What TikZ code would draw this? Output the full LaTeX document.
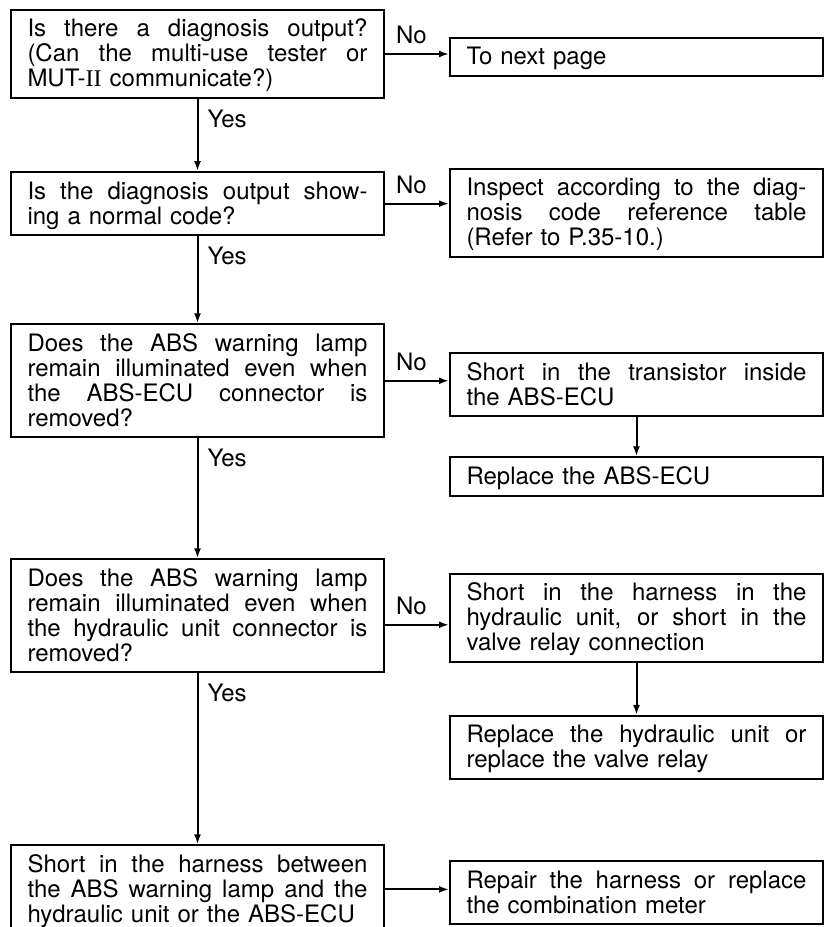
\documentclass[tikz,border=0pt]{standalone}
\usepackage{fontspec}
\setsansfont{TeX Gyre Heros}
\newfontfamily\romana{Liberation Serif}
\usetikzlibrary{positioning}
\usetikzlibrary{arrows.meta}
\newlength{\anchotexto}
\setlength{\anchotexto}{170pt}
\newcommand{\linea}[1]{\makebox[\anchotexto][s]{\spaceskip=0pt\xspaceskip=0pt #1}}
\tikzset{
  caja/.style={
    rectangle, draw=black, line width=1pt, fill=white,
    text width=\anchotexto, inner xsep=8.25pt, inner ysep=3pt, align=left,
    font=\sffamily\fontsize{12}{12.5}\selectfont,
    execute at begin node={\rule{0pt}{10.5pt}},
    execute at end node={\rule[-2.5pt]{0pt}{2.5pt}}
  },
  flecha/.style={-{Latex[length=5pt,width=3.5pt]}, line width=1pt, draw=black},
  etiqueta/.style={inner sep=0pt, font=\sffamily\fontsize{12}{12.5}\selectfont},
  etiqsi/.style={etiqueta, at start, anchor=north west, xshift=4.5pt, yshift=-5pt},
  etiqno/.style={etiqueta, at start, anchor=south west, xshift=5pt, yshift=4.5pt}
}
\begin{document}
\begin{tikzpicture}[x=0.5pt, y=-0.5pt, node distance=36pt and 32pt]
  \useasboundingbox (0,0) rectangle (828,927);
  % preguntas
  \node[caja] (p1) at (197.5,54) {\linea{Is there a diagnosis output?}\\\linea{(Can the multi-use tester or}\\MUT-{\romana II} communicate?)};
  \node[caja, below=36pt of p1] (p2) {\linea{Is the diagnosis output show-}\\ing a normal code?};
  \node[caja, below=43.5pt of p2] (p3) {\linea{Does the ABS warning lamp}\\\linea{remain illuminated even when}\\\linea{the ABS-ECU connector is}\\removed?};
  \node[caja, below=60pt of p3] (p4) {\linea{Does the ABS warning lamp}\\\linea{remain illuminated even when}\\\linea{the hydraulic unit connector is}\\removed?};
  \node[caja, below=85.5pt of p4] (p5) {\linea{Short in the harness between}\\\linea{the ABS warning lamp and the}\\hydraulic unit or the ABS-ECU};
  % resultados
  \node[caja, right=32pt of p1, yshift=-1.5pt] (r1) {To next page};
  \node[caja, right=32pt of p2, yshift=-4.5pt] (r2) {\linea{Inspect according to the diag-}\\\linea{nosis code reference table}\\(Refer to P.35-10.)};
  \node[caja, right=32pt of p3, yshift=-2pt] (r3) {\linea{Short in the transistor inside}\\the ABS-ECU};
  \node[caja, below=19.5pt of r3] (r3b) {Replace the ABS-ECU};
  \node[caja, right=32pt of p4, yshift=-1pt] (r4) {\linea{Short in the harness in the}\\\linea{hydraulic unit, or short in the}\\valve relay connection};
  \node[caja, below=26pt of r4] (r4b) {\linea{Replace the hydraulic unit or}\\replace the valve relay};
  \node[caja, right=32pt of p5, yshift=-1.75pt] (r5) {\linea{Repair the harness or replace}\\the combination meter};
  % flechas
  \draw[flecha] (p1) -- node[etiqsi] {Yes} (p2);
  \draw[flecha] (p2) -- node[etiqsi] {Yes} (p3);
  \draw[flecha] (p3) -- node[etiqsi] {Yes} (p4);
  \draw[flecha] (p4) -- node[etiqsi] {Yes} (p5);
  \coordinate (s4) at ([yshift=-4.5pt]p4.east);
  \draw[flecha] (p1.east) -- node[etiqno] {No} (p1.east -| r1.west);
  \draw[flecha] (p2.east) -- node[etiqno] {No} (p2.east -| r2.west);
  \draw[flecha] (p3.east) -- node[etiqno] {No} (p3.east -| r3.west);
  \draw[flecha] (s4) -- node[etiqno] {No} (s4 -| r4.west);
  \draw[flecha] (p5.east) -- (p5.east -| r5.west);
  \draw[flecha] (r3) -- (r3b);
  \draw[flecha] (r4) -- (r4b);
\end{tikzpicture}
\end{document}
